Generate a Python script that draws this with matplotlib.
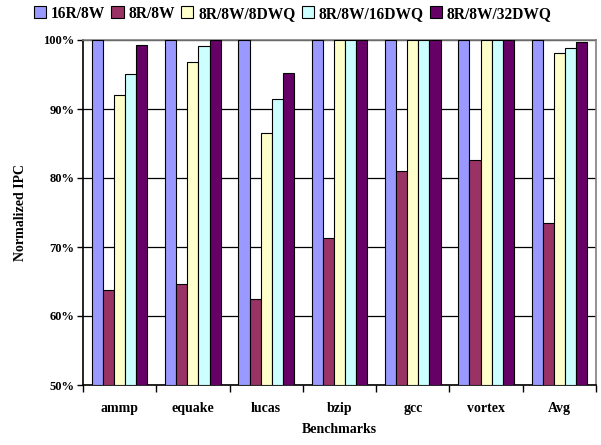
import matplotlib.pyplot as plt
import numpy as np
from matplotlib.ticker import FixedLocator, FuncFormatter

benchmarks = ["ammp", "equake", "lucas", "bzip", "gcc", "vortex", "Avg"]
series_names = ["16R/8W", "8R/8W", "8R/8W/8DWQ", "8R/8W/16DWQ", "8R/8W/32DWQ"]

ipc_16r_8w = [100, 100, 100, 100, 100, 100, 100]
ipc_8r_8w = [63.8, 64.7, 62.5, 71.3, 81.0, 82.6, 73.5]
ipc_8dwq = [92.0, 96.8, 86.5, 100, 100, 100, 98.1]
ipc_16dwq = [95.1, 99.1, 91.4, 100, 100, 100, 98.9]
ipc_32dwq = [99.3, 100, 95.2, 100, 100, 100, 99.7]

colors = ["#9999FF", "#993366", "#FFFFCC", "#CCFFFF", "#660066"]

plt.rcParams["font.family"] = ["Liberation Serif", "DejaVu Serif"]
plt.rcParams["font.weight"] = "bold"

fig = plt.figure(figsize=(6.01, 4.45), dpi=100)
ax = fig.add_axes([83 / 601, 1 - 385 / 445, (596 - 83) / 601, (385 - 40) / 445])

x = np.arange(len(benchmarks))
width = 0.152
all_series = [ipc_16r_8w, ipc_8r_8w, ipc_8dwq, ipc_16dwq, ipc_32dwq]
for i, (name, vals, col) in enumerate(zip(series_names, all_series, colors)):
    ax.bar(x + (i - 2) * width, np.array(vals) - 50, width, bottom=50,
           color=col, edgecolor="black", linewidth=0.8, label=name, zorder=3)

ax.set_xlim(-0.5, len(benchmarks) - 0.5)
ax.set_ylim(50, 100)
ax.set_yticks([50, 60, 70, 80, 90, 100])
ax.yaxis.set_major_formatter(FuncFormatter(lambda v, p: f"{v:.0f}%"))
ax.yaxis.grid(True, color="black", linewidth=0.9, zorder=0)

ax.set_xticks(x)
ax.set_xticklabels(benchmarks)
ax.xaxis.set_minor_locator(FixedLocator(np.arange(-0.5, len(benchmarks), 1.0)))
ax.tick_params(axis="x", which="major", length=0, pad=12, labelsize=10)
ax.tick_params(axis="x", which="minor", length=5, width=1, direction="out")
ax.tick_params(axis="y", length=4, width=1, direction="out", labelsize=9, pad=2)

for side in ["top", "right"]:
    ax.spines[side].set_color("#808080")
    ax.spines[side].set_linewidth(1.2)
for side in ["left", "bottom"]:
    ax.spines[side].set_color("black")
    ax.spines[side].set_linewidth(1.2)

ax.set_xlabel("Benchmarks", fontsize=10, fontweight="bold", labelpad=6)
ax.set_ylabel("Normalized IPC", fontsize=10, fontweight="bold", labelpad=12)

fig.legend(loc="upper center", bbox_to_anchor=(0.487, 1.008), ncol=5, frameon=False,
           prop={"size": 11.2, "weight": "bold"}, handlelength=0.8, handleheight=0.8,
           handletextpad=0.3, columnspacing=0.4, borderaxespad=0.2)

fig.savefig("out.png", dpi=100)
